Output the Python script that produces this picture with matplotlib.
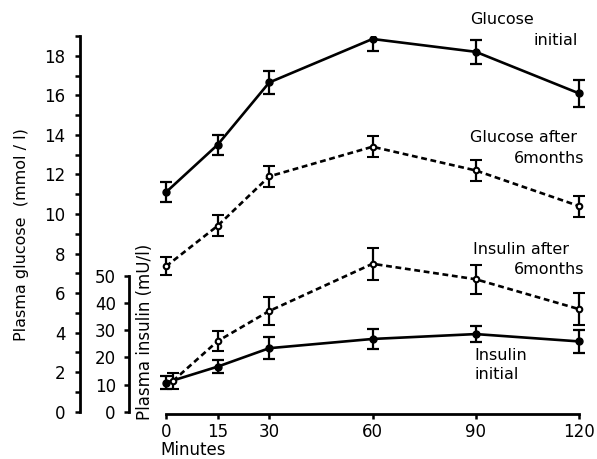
import matplotlib.pyplot as plt
from matplotlib.ticker import MultipleLocator

plt.rcParams['font.family'] = ['DejaVu Sans']

minutes = [0, 15, 30, 60, 90, 120]
minutes_ins_after = [2, 15, 30, 60, 90, 120]  # first point drawn slightly offset in the original

glucose_initial = [11.1, 13.5, 16.65, 18.85, 18.2, 16.1]
glucose_initial_err = [0.5, 0.5, 0.6, 0.6, 0.62, 0.68]
glucose_after = [7.35, 9.4, 11.9, 13.4, 12.2, 10.4]
glucose_after_err = [0.45, 0.53, 0.53, 0.52, 0.53, 0.53]

insulin_initial = [10.7, 16.6, 23.4, 26.8, 28.6, 25.9]
insulin_initial_err = [2.5, 2.4, 4.0, 3.8, 2.8, 4.3]
insulin_after = [11.3, 26.0, 37.1, 54.5, 48.8, 37.8]
insulin_after_err = [2.8, 3.7, 5.0, 5.8, 5.3, 5.9]

W, H = 597, 459
fig = plt.figure(figsize=(W / 100, H / 100), dpi=100)

# pixel layout of the original
x_left, x_right = 80, 590
y_bot, y_top = 411.7, 36
px_per_min = (579 - 166) / 120.0
xmin = (x_left - 166) / px_per_min
xmax = (x_right - 166) / px_per_min
rect = [x_left / W, (H - y_bot) / H, (x_right - x_left) / W, (y_bot - y_top) / H]

def ax_x(px):
    return (px - x_left) / (x_right - x_left)

def ax_y(py):
    return (y_bot - py) / (y_bot - y_top)

ax = fig.add_axes(rect)
ax.set_xlim(xmin, xmax)
ax.set_ylim(0, 19)
for s in ['top', 'right']:
    ax.spines[s].set_visible(False)
ax.spines['left'].set_linewidth(2)
ax.spines['bottom'].set_linewidth(2)
ax.spines['bottom'].set_bounds(0, 120)
ax.spines['bottom'].set_position(('outward', 1.5))
ax.set_xticks(minutes)
ax.set_xticklabels([str(m) for m in minutes], fontsize=12)
ax.yaxis.set_major_locator(MultipleLocator(2))
ax.yaxis.set_minor_locator(MultipleLocator(1))
ax.tick_params(axis='y', which='both', length=3.5, width=1.8, labelsize=12, pad=7)
ax.tick_params(axis='x', length=3.5, width=1.8, pad=3)
ax.set_ylabel('Plasma glucose  (mmol / l)', fontsize=11.5)
ax.yaxis.set_label_coords(ax_x(29), ax_y(235))

# insulin axis
ax2 = fig.add_axes(rect, sharex=ax)
ax2.patch.set_visible(False)
glu_px = (y_bot - y_top) / 19.0
ins_px = (411.7 - 276) / 50.0
ax2.set_ylim(0, 19 * glu_px / ins_px)
for s in ['top', 'right', 'bottom']:
    ax2.spines[s].set_visible(False)
ax2.spines['left'].set_position(('axes', ax_x(129)))
ax2.spines['left'].set_bounds(0, 50)
ax2.spines['left'].set_linewidth(2)
ax2.set_yticks([0, 10, 20, 30, 40, 50])
ax2.tick_params(axis='y', length=3.5, width=1.8, labelsize=12, pad=6)
ax2.tick_params(axis='x', bottom=False, labelbottom=False)
ax2.set_ylabel('Plasma insulin (mU/l)', fontsize=12)
ax2.yaxis.set_label_coords(ax_x(154), ax_y(332))

eb = dict(color='black', capsize=4, elinewidth=1.6, capthick=1.6, lw=1.9)
ax.errorbar(minutes, glucose_initial, yerr=glucose_initial_err, fmt='-o', ms=5,
            mfc='black', mec='black', **eb)
ax.errorbar(minutes, glucose_after, yerr=glucose_after_err, fmt='o', ls=(0, (2.2, 1.4)), ms=4,
            mfc='white', mec='black', mew=1.5, **eb)
ax2.errorbar(minutes, insulin_initial, yerr=insulin_initial_err, fmt='-o', ms=5,
             mfc='black', mec='black', **eb)
ax2.errorbar(minutes_ins_after, insulin_after, yerr=insulin_after_err, fmt='o', ls=(0, (2.2, 1.4)),
             ms=4, mfc='white', mec='black', mew=1.5, **eb)

fs = 11.5
ax.text(88.3, 19.85, 'Glucose', fontsize=fs, va='center', ha='left')
ax.text(119.7, 18.75, 'initial', fontsize=fs, va='center', ha='right')
ax.text(88.3, 13.88, 'Glucose after', fontsize=fs, va='center', ha='left')
ax.text(121.7, 12.8, '6months', fontsize=fs, va='center', ha='right')
ax.text(89.2, 8.2, 'Insulin after', fontsize=fs, va='center', ha='left')
ax.text(121.7, 7.18, '6months', fontsize=fs, va='center', ha='right')
ax.text(89.5, 2.82, 'Insulin', fontsize=fs, va='center', ha='left')
ax.text(89.5, 1.86, 'initial', fontsize=fs, va='center', ha='left')

fig.text(160 / W, 1 - 450 / H, 'Minutes', fontsize=12, va='center', ha='left')

fig.savefig('out.png', dpi=100)
